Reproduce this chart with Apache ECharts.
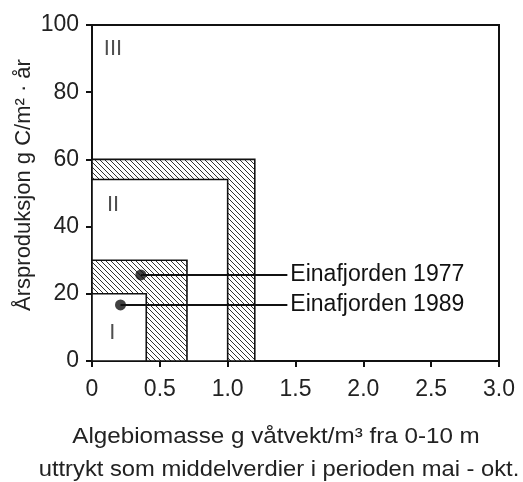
<!DOCTYPE html>
<html>
<head>
<meta charset="utf-8">
<script src="https://cdn.jsdelivr.net/npm/echarts@6/dist/echarts.min.js"></script>
<style>
  html, body { margin: 0; padding: 0; background: #fff; }
  #main { width: 523px; height: 482px; }
</style>
</head>
<body>
<div id="main"></div>
<script>
// områdene (ytre/indre rektangler), x = algebiomasse, y = årsproduksjon
var boxX1 = [1.2, 1.0, 0.7, 0.4];
var boxY1 = [60, 54, 30, 20];
var boxHatched = [true, false, true, false];

// romertall for områdene
var zoneNames = ['III', 'II', 'I'];
var zoneX = [0.155, 0.155, 0.15];
var zoneY = [93, 46.5, 8.5];

// målepunkter
var stations = ['Einafjorden 1977', 'Einafjorden 1989'];
var stationX = [0.36, 0.21];
var stationY = [25.6, 16.7];
var leaderEndX = 1.44;

var font = 'Liberation Sans, Arial, sans-serif';

// skravur-mønster
function hatch() {
    var s = 5;
    var c = document.createElement('canvas');
    c.width = s; c.height = s;
    var ctx = c.getContext('2d');
    ctx.fillStyle = '#fff';
    ctx.fillRect(0, 0, s, s);
    ctx.strokeStyle = '#333';
    ctx.lineWidth = 1;
    ctx.beginPath();
    ctx.moveTo(-1, -1); ctx.lineTo(s + 1, s + 1);
    ctx.moveTo(s - 1, -1); ctx.lineTo(s + 1, 1);
    ctx.moveTo(-1, s - 1); ctx.lineTo(1, s + 1);
    ctx.stroke();
    return c;
}
var pattern = { image: hatch(), repeat: 'repeat' };

var boxData = [];
for (var i = 0; i < boxX1.length; i++) {
    boxData.push([boxX1[i], boxY1[i], boxHatched[i] ? 1 : 0]);
}

var zoneData = [];
for (var i = 0; i < zoneNames.length; i++) {
    zoneData.push({ value: [zoneX[i], zoneY[i]], name: zoneNames[i] });
}

var series = [{
    type: 'custom',
    silent: true,
    z: 2,
    data: boxData,
    renderItem: function(params, api) {
        var p0 = api.coord([0, 0]);
        var p1 = api.coord([api.value(0), api.value(1)]);
        return {
            type: 'rect',
            shape: { x: p0[0], y: p1[1], width: p1[0] - p0[0], height: p0[1] - p1[1] },
            style: {
                fill: api.value(2) ? pattern : '#fff',
                stroke: '#111',
                lineWidth: 1.6
            }
        };
    }
}, {
    type: 'scatter',
    symbolSize: 0,
    z: 4,
    data: zoneData,
    label: {
        show: true,
        position: 'inside',
        formatter: '{b}',
        color: '#222',
        fontFamily: font,
        fontSize: 22
    }
}];

for (var i = 0; i < stations.length; i++) {
    series.push({
        type: 'line',
        name: stations[i],
        z: 5,
        symbol: 'none',
        lineStyle: { color: '#111', width: 2 },
        data: [[stationX[i], stationY[i]], [leaderEndX, stationY[i]]],
        endLabel: {
            show: true,
            formatter: stations[i],
            color: '#111',
            fontFamily: font,
            fontSize: 23,
            distance: 3
        }
    });
    series.push({
        type: 'scatter',
        z: 6,
        symbolSize: 11,
        itemStyle: { color: '#111' },
        data: [[stationX[i], stationY[i]]]
    });
}

var myChart = echarts.init(document.getElementById('main'));

option = {
    animation: false,
    backgroundColor: '#fff',
    grid: {
        left: 92, right: 24, top: 25, bottom: 121,
        show: true,
        borderColor: '#111',
        borderWidth: 2
    },
    xAxis: {
        type: 'value',
        min: 0, max: 3, interval: 0.5,
        splitLine: { show: false },
        axisLine: { onZero: false, lineStyle: { color: '#111', width: 2 } },
        axisTick: { length: 6, lineStyle: { color: '#111', width: 2 } },
        axisLabel: {
            margin: 17,
            color: '#222',
            fontFamily: font,
            fontSize: 23,
            formatter: function(v) { return v === 0 ? '0' : v.toFixed(1); }
        }
    },
    yAxis: {
        type: 'value',
        min: 0, max: 100, interval: 20,
        splitLine: { show: false },
        axisLine: { onZero: false, lineStyle: { color: '#111', width: 2 } },
        axisTick: { length: 6, lineStyle: { color: '#111', width: 2 } },
        axisLabel: { margin: 13, color: '#222', fontFamily: font, fontSize: 23 }
    },
    graphic: [{
        type: 'text',
        x: 24, y: 185,
        rotation: Math.PI / 2,
        style: {
            text: 'Årsproduksjon g C/m² · år',
            fill: '#222',
            font: '22px ' + font,
            align: 'center',
            verticalAlign: 'middle'
        }
    }, {
        type: 'text',
        x: 276, y: 437,
        scaleX: 1.1,
        style: {
            text: 'Algebiomasse g våtvekt/m³ fra 0-10 m',
            fill: '#222',
            font: '22px ' + font,
            align: 'center',
            verticalAlign: 'middle'
        }
    }, {
        type: 'text',
        x: 279, y: 470,
        scaleX: 1.08,
        style: {
            text: 'uttrykt som middelverdier i perioden mai - okt.',
            fill: '#222',
            font: '22px ' + font,
            align: 'center',
            verticalAlign: 'middle'
        }
    }],
    series: series
};

myChart.setOption(option);
</script>
</body>
</html>
